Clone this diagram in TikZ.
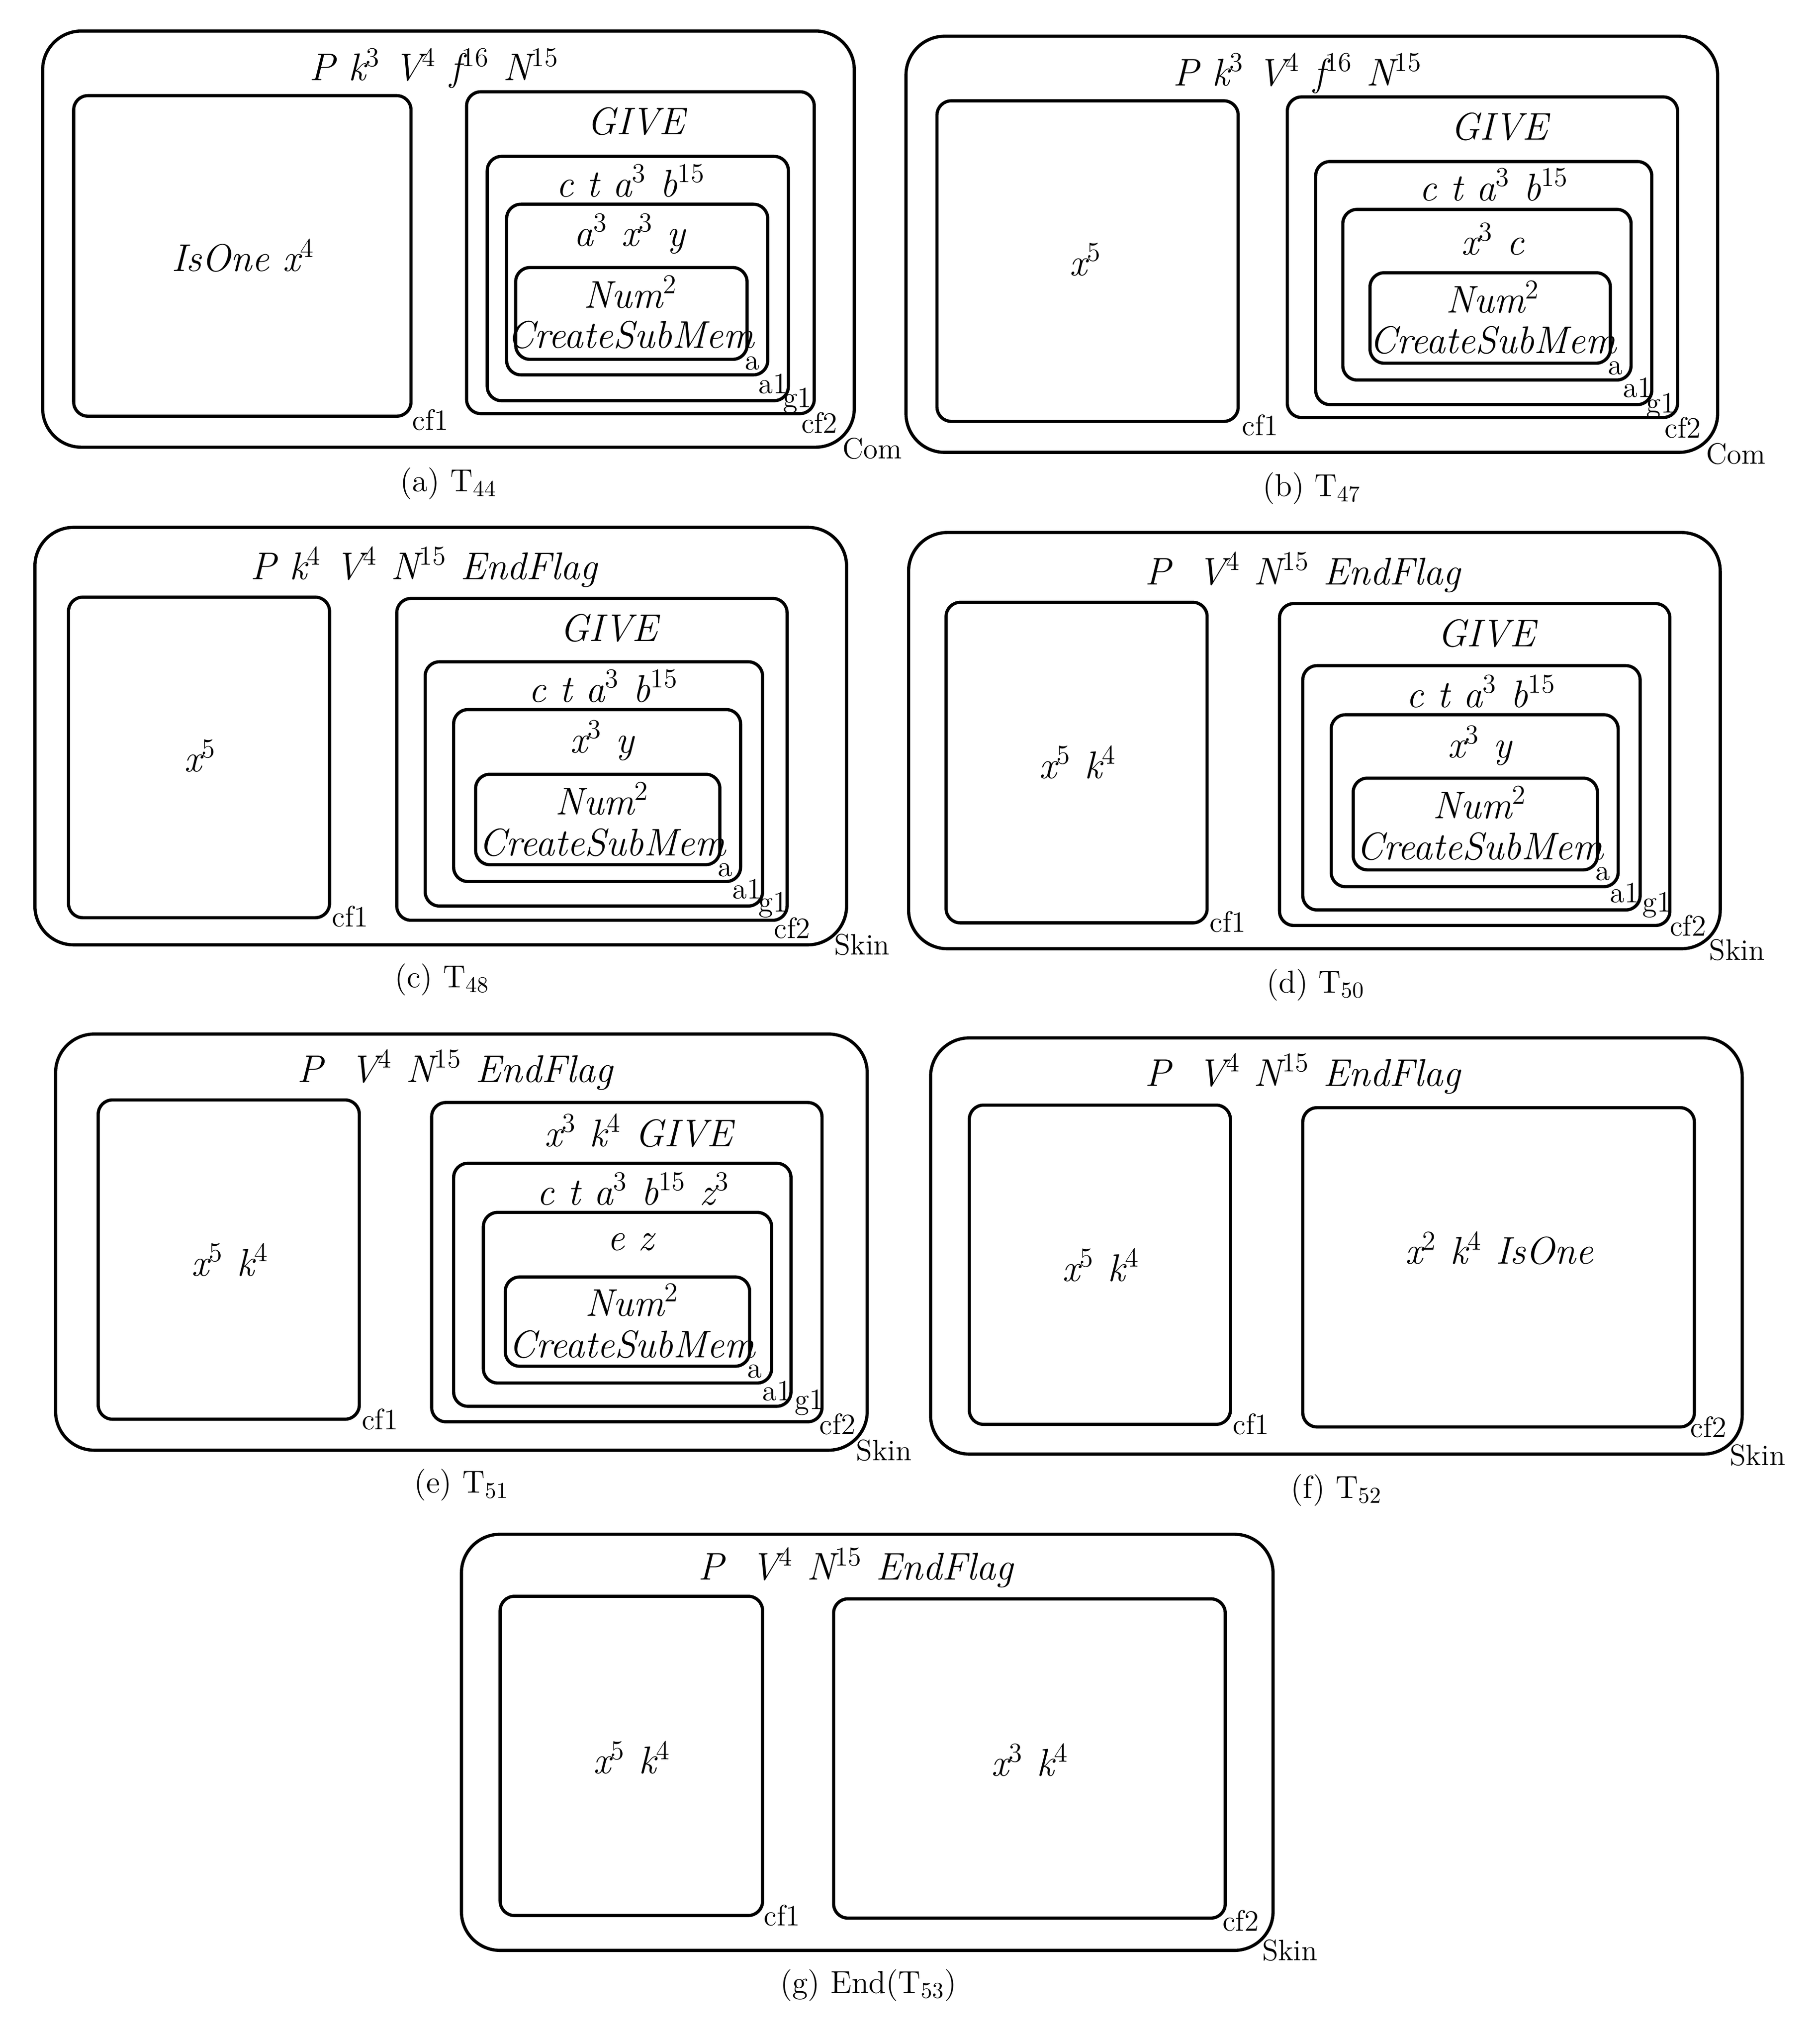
\documentclass[tikz,border=0pt]{standalone}
\begin{document}
\begin{tikzpicture}[x=0.02cm,y=-0.02cm,
  outer/.style={draw,line width=1.4pt,rounded corners=0.6cm},
  inner/.style={draw,line width=1.4pt,rounded corners=0.22cm},
  mem/.style={font=\fontsize{17}{19}\selectfont\itshape,inner sep=0pt},
  lab/.style={font=\fontsize{13}{15}\selectfont,inner sep=0pt},
  capt/.style={font=\fontsize{14}{16}\selectfont,inner sep=0pt}]
\useasboundingbox (0,0) rectangle (1408,1576);
% (a)
\draw[outer] (33,24) rectangle (661,346);
\draw[inner] (57,74) rectangle (318,322);
\draw[inner] (361,71) rectangle (630,320);
\draw[inner] (377,121) rectangle (610,310);
\draw[inner] (392,158) rectangle (594,290);
\draw[inner] (399,207) rectangle (578,278);
\node[mem] (at) at (336,53) {P k$^3$ V$^4$ f$^{16}$ N$^{15}$};
\node[mem] (a1t) at (188,198) {IsOne x$^4$};
\node[mem] (a2t) at (492,94) {GIVE};
\node[mem] (a3t) at (488,140) {c t a$^3$ b$^{15}$};
\node[mem] (a4t) at (487,181) {a$^3$ x$^3$ y};
\node[mem] (a5t) at (488,226) {Num$^2$};
\node[mem] (a6t) at (488,259) {CreateSubMem};
\node[lab] (al1) at (333,325) {cf1};
\node[lab] (al2) at (634,327) {cf2};
\node[lab] (al3) at (617,310) {g1};
\node[lab] (al4) at (598,297) {a1};
\node[lab] (al5) at (582,281) {a};
\node[lab] (al6) at (675,347) {Com};
\node[capt] (ac) at (347,374) {(a) T$_{44}$};
% (b)
\draw[outer] (701,28) rectangle (1329,350);
\draw[inner] (725,78) rectangle (958,326);
\draw[inner] (996,75) rectangle (1298,323);
\draw[inner] (1018,125) rectangle (1278,313);
\draw[inner] (1039,162) rectangle (1262,294);
\draw[inner] (1060,211) rectangle (1246,281);
\node[mem] (bt) at (1004,57) {P k$^3$ V$^4$ f$^{16}$ N$^{15}$};
\node[mem] (b1t) at (840,201) {x$^5$};
\node[mem] (b2t) at (1160,98) {GIVE};
\node[mem] (b3t) at (1156,143) {c t a$^3$ b$^{15}$};
\node[mem] (b4t) at (1155,185) {x$^3$ c};
\node[mem] (b5t) at (1155,230) {Num$^2$};
\node[mem] (b6t) at (1155,263) {CreateSubMem};
\node[lab] (bl1) at (975,329) {cf1};
\node[lab] (bl2) at (1302,331) {cf2};
\node[lab] (bl3) at (1285,314) {g1};
\node[lab] (bl4) at (1267,300) {a1};
\node[lab] (bl5) at (1250,285) {a};
\node[lab] (bl6) at (1343,351) {Com};
\node[capt] (bc) at (1015,378) {(b) T$_{47}$};
% (c)
\draw[outer] (27,408) rectangle (655,731);
\draw[inner] (53,462) rectangle (255,710);
\draw[inner] (307,463) rectangle (609,712);
\draw[inner] (329,512) rectangle (590,701);
\draw[inner] (351,549) rectangle (573,682);
\draw[inner] (368,599) rectangle (557,669);
\node[mem] (ct) at (328,439) {P k$^4$ V$^4$ N$^{15}$ EndFlag};
\node[mem] (c1t) at (155,585) {x$^5$};
\node[mem] (c2t) at (471,486) {GIVE};
\node[mem] (c3t) at (467,531) {c t a$^3$ b$^{15}$};
\node[mem] (c4t) at (466,573) {x$^3$ y};
\node[mem] (c5t) at (466,618) {Num$^2$};
\node[mem] (c6t) at (466,652) {CreateSubMem};
\node[lab] (cl1) at (271,709) {cf1};
\node[lab] (cl2) at (613,718) {cf2};
\node[lab] (cl3) at (598,700) {g1};
\node[lab] (cl4) at (578,688) {a1};
\node[lab] (cl5) at (561,673) {a};
\node[lab] (cl6) at (667,731) {Skin};
\node[capt] (cc) at (342,758) {(c) T$_{48}$};
% (d)
\draw[outer] (703,412) rectangle (1331,734);
\draw[inner] (732,466) rectangle (934,714);
\draw[inner] (990,467) rectangle (1292,716);
\draw[inner] (1008,515) rectangle (1269,704);
\draw[inner] (1030,553) rectangle (1252,686);
\draw[inner] (1047,602) rectangle (1236,673);
\node[mem] (dt) at (1008,443) {P \ V$^4$ N$^{15}$ EndFlag};
\node[mem] (d1t) at (834,590) {x$^5$ k$^4$};
\node[mem] (d2t) at (1150,490) {GIVE};
\node[mem] (d3t) at (1146,535) {c t a$^3$ b$^{15}$};
\node[mem] (d4t) at (1145,577) {x$^3$ y};
\node[mem] (d5t) at (1145,621) {Num$^2$};
\node[mem] (d6t) at (1145,655) {CreateSubMem};
\node[lab] (dl1) at (950,713) {cf1};
\node[lab] (dl2) at (1306,716) {cf2};
\node[lab] (dl3) at (1282,700) {g1};
\node[lab] (dl4) at (1257,691) {a1};
\node[lab] (dl5) at (1240,676) {a};
\node[lab] (dl6) at (1344,735) {Skin};
\node[capt] (dc) at (1018,762) {(d) T$_{50}$};
% (e)
\draw[outer] (43,800) rectangle (671,1122);
\draw[inner] (76,851) rectangle (278,1098);
\draw[inner] (334,853) rectangle (636,1100);
\draw[inner] (351,900) rectangle (612,1088);
\draw[inner] (374,938) rectangle (597,1070);
\draw[inner] (391,988) rectangle (580,1057);
\node[mem] (et) at (352,828) {P \ V$^4$ N$^{15}$ EndFlag};
\node[mem] (e1t) at (178,975) {x$^5$ k$^4$};
\node[mem] (e2t) at (494,875) {x$^3$ k$^4$ GIVE};
\node[mem] (e3t) at (490,920) {c t a$^3$ b$^{15}$ z$^3$};
\node[mem] (e4t) at (488,961) {e z};
\node[mem] (e5t) at (489,1006) {Num$^2$};
\node[mem] (e6t) at (489,1040) {CreateSubMem};
\node[lab] (el1) at (294,1098) {cf1};
\node[lab] (el2) at (648,1102) {cf2};
\node[lab] (el3) at (626,1085) {g1};
\node[lab] (el4) at (601,1076) {a1};
\node[lab] (el5) at (584,1061) {a};
\node[lab] (el6) at (684,1122) {Skin};
\node[capt] (ec) at (357,1149) {(e) T$_{51}$};
% (f)
\draw[outer] (720,803) rectangle (1348,1125);
\draw[inner] (750,855) rectangle (952,1102);
\draw[inner] (1008,857) rectangle (1311,1104);
\node[mem] (ft) at (1008,831) {P \ V$^4$ N$^{15}$ EndFlag};
\node[mem] (f1t) at (852,979) {x$^5$ k$^4$};
\node[mem] (f2t) at (1160,966) {x$^2$ k$^4$ IsOne};
\node[lab] (fl1) at (968,1102) {cf1};
\node[lab] (fl2) at (1322,1104) {cf2};
\node[lab] (fl6) at (1360,1126) {Skin};
\node[capt] (fc) at (1034,1153) {(f) T$_{52}$};
% (g)
\draw[outer] (357,1187) rectangle (985,1509);
\draw[inner] (387,1235) rectangle (590,1482);
\draw[inner] (645,1237) rectangle (948,1484);
\node[mem] (gt) at (662,1213) {P \ V$^4$ N$^{15}$ EndFlag};
\node[mem] (g1t) at (489,1360) {x$^5$ k$^4$};
\node[mem] (g2t) at (797,1362) {x$^3$ k$^4$};
\node[lab] (gl1) at (605,1482) {cf1};
\node[lab] (gl2) at (960,1486) {cf2};
\node[lab] (gl6) at (998,1509) {Skin};
\node[capt] (gc) at (672,1536) {(g) End(T$_{53}$)};
\end{tikzpicture}
\end{document}
